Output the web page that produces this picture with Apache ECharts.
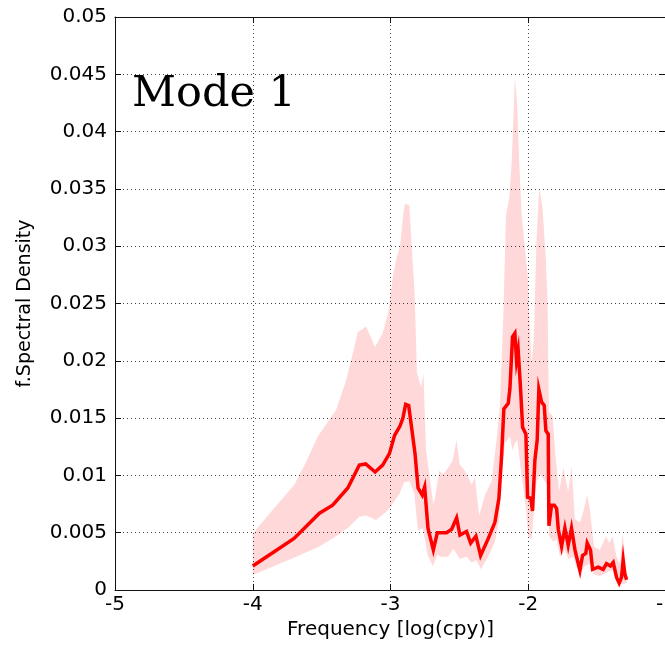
<!DOCTYPE html>
<html>
<head>
<meta charset="utf-8">
<script src="https://cdn.jsdelivr.net/npm/echarts/dist/echarts.min.js"></script>
<style>
  html, body { margin: 0; padding: 0; background: #fff; }
  #chart { width: 665px; height: 647px; }
</style>
</head>
<body>
<div id="chart"></div>
<script>
// Mode 1 spectrum: mean estimate (x = log10 frequency, y = f * spectral density)
const meanCurve = [
  [-4.000, 0.0021], [-3.850, 0.0033], [-3.700, 0.0045], [-3.600, 0.0057],
  [-3.516, 0.0067], [-3.420, 0.0074], [-3.310, 0.0089], [-3.226, 0.0109],
  [-3.180, 0.0110], [-3.112, 0.0103], [-3.057, 0.0109], [-3.008, 0.0119],
  [-2.970, 0.0135], [-2.931, 0.0143], [-2.910, 0.0150], [-2.890, 0.0162],
  [-2.868, 0.0161], [-2.845, 0.0140], [-2.822, 0.0119], [-2.800, 0.0089],
  [-2.770, 0.0083], [-2.752, 0.0090], [-2.728, 0.0054], [-2.689, 0.0035],
  [-2.660, 0.0050], [-2.641, 0.0050], [-2.613, 0.0050], [-2.593, 0.0050],
  [-2.556, 0.0053], [-2.520, 0.0063], [-2.496, 0.0048], [-2.448, 0.0051],
  [-2.418, 0.0041], [-2.380, 0.0047], [-2.346, 0.0030], [-2.290, 0.0045],
  [-2.242, 0.0059], [-2.213, 0.0080], [-2.194, 0.0116], [-2.177, 0.0158],
  [-2.145, 0.0163], [-2.133, 0.0176], [-2.114, 0.0221], [-2.097, 0.0224],
  [-2.085, 0.0200], [-2.073, 0.0209], [-2.056, 0.0176], [-2.041, 0.0142],
  [-2.017, 0.0136], [-2.005, 0.0081], [-1.981, 0.0080], [-1.969, 0.0069],
  [-1.952, 0.0113], [-1.935, 0.0131], [-1.923, 0.0175], [-1.903, 0.0164],
  [-1.884, 0.0161], [-1.872, 0.0139], [-1.855, 0.0136], [-1.850, 0.0056],
  [-1.831, 0.0074], [-1.811, 0.0074], [-1.794, 0.0071], [-1.782, 0.0053],
  [-1.758, 0.0038], [-1.734, 0.0054], [-1.710, 0.0039], [-1.686, 0.0054],
  [-1.661, 0.0035], [-1.625, 0.0017], [-1.606, 0.0030], [-1.582, 0.0032],
  [-1.572, 0.0041], [-1.548, 0.0035], [-1.533, 0.0018], [-1.492, 0.0020],
  [-1.456, 0.0018], [-1.432, 0.0023], [-1.403, 0.0021], [-1.383, 0.0024],
  [-1.359, 0.0011], [-1.340, 0.0006], [-1.323, 0.0011], [-1.311, 0.0026],
  [-1.299, 0.0014], [-1.286, 0.0009]
];

// Upper edge of the confidence band
const bandUpper = [
  [-4.000, 0.0049], [-3.855, 0.0070], [-3.697, 0.0092], [-3.612, 0.0112],
  [-3.528, 0.0134], [-3.395, 0.0157], [-3.322, 0.0183], [-3.262, 0.0212],
  [-3.238, 0.0225], [-3.177, 0.0230], [-3.112, 0.0212], [-3.057, 0.0224],
  [-3.013, 0.0244], [-2.984, 0.0273], [-2.959, 0.0288], [-2.931, 0.0300],
  [-2.905, 0.0330], [-2.895, 0.0337], [-2.863, 0.0336], [-2.846, 0.0300],
  [-2.825, 0.0260], [-2.808, 0.0190], [-2.778, 0.0177], [-2.761, 0.0189],
  [-2.742, 0.0122], [-2.701, 0.0086], [-2.690, 0.0075], [-2.677, 0.0080],
  [-2.646, 0.0104], [-2.617, 0.0101], [-2.581, 0.0107], [-2.549, 0.0113],
  [-2.520, 0.0131], [-2.499, 0.0110], [-2.460, 0.0104], [-2.411, 0.0092],
  [-2.387, 0.0098], [-2.356, 0.0065], [-2.314, 0.0083], [-2.266, 0.0095],
  [-2.230, 0.0131], [-2.206, 0.0161], [-2.181, 0.0239], [-2.162, 0.0327],
  [-2.138, 0.0342], [-2.121, 0.0372], [-2.109, 0.0408], [-2.097, 0.0447],
  [-2.080, 0.0423], [-2.065, 0.0372], [-2.048, 0.0327], [-2.024, 0.0298],
  [-2.005, 0.0276], [-1.976, 0.0197], [-1.959, 0.0221], [-1.940, 0.0306],
  [-1.920, 0.0351], [-1.896, 0.0333], [-1.872, 0.0288], [-1.860, 0.0252],
  [-1.850, 0.0155], [-1.823, 0.0152], [-1.802, 0.0116], [-1.775, 0.0086],
  [-1.746, 0.0107], [-1.710, 0.0086], [-1.686, 0.0108], [-1.661, 0.0062],
  [-1.625, 0.0059], [-1.601, 0.0068], [-1.572, 0.0083], [-1.553, 0.0071],
  [-1.523, 0.0038], [-1.480, 0.0035], [-1.436, 0.0047], [-1.412, 0.0041],
  [-1.388, 0.0047], [-1.359, 0.0029], [-1.335, 0.0023], [-1.315, 0.0050],
  [-1.303, 0.0035], [-1.286, 0.0014]
];

// Lower edge of the confidence band
const bandLower = [
  [-4.000, 0.0013], [-3.685, 0.0029], [-3.516, 0.0038], [-3.395, 0.0047],
  [-3.310, 0.0054], [-3.226, 0.0064], [-3.177, 0.0065], [-3.105, 0.0061],
  [-3.032, 0.0068], [-2.996, 0.0073], [-2.935, 0.0084], [-2.900, 0.0094],
  [-2.863, 0.0095], [-2.827, 0.0084], [-2.810, 0.0062], [-2.800, 0.0052],
  [-2.766, 0.0054], [-2.730, 0.0030], [-2.692, 0.0021], [-2.657, 0.0031],
  [-2.641, 0.0029], [-2.581, 0.0029], [-2.544, 0.0036], [-2.496, 0.0027],
  [-2.448, 0.0029], [-2.411, 0.0024], [-2.375, 0.0026], [-2.344, 0.0018],
  [-2.290, 0.0029], [-2.242, 0.0042], [-2.210, 0.0062], [-2.194, 0.0101],
  [-2.169, 0.0128], [-2.133, 0.0134], [-2.114, 0.0122], [-2.097, 0.0128],
  [-2.080, 0.0131], [-2.056, 0.0107], [-2.036, 0.0089], [-2.017, 0.0071],
  [-2.000, 0.0047], [-1.976, 0.0044], [-1.964, 0.0062], [-1.940, 0.0095],
  [-1.915, 0.0101], [-1.886, 0.0096], [-1.862, 0.0092], [-1.848, 0.0047],
  [-1.819, 0.0042], [-1.794, 0.0044], [-1.770, 0.0029], [-1.734, 0.0035],
  [-1.710, 0.0027], [-1.673, 0.0029], [-1.649, 0.0020], [-1.625, 0.0014],
  [-1.589, 0.0021], [-1.553, 0.0023], [-1.528, 0.0014], [-1.480, 0.0012],
  [-1.432, 0.0015], [-1.383, 0.0018], [-1.347, 0.0008], [-1.323, 0.0005],
  [-1.286, 0.0006]
];

const xRange = [-5, -1];
const yRange = [0, 0.05];
const xStep = 1;
const yStep = 0.005;
const panelTitle = 'Mode 1';

const AXIS_FONT = 'DejaVu Sans';
const gridDots = { color: 'rgba(0,0,0,0.75)', type: [1, 3], width: 1 };

const chart = echarts.init(document.getElementById('chart'), null, { renderer: 'canvas' });

chart.setOption({
  animation: false,
  backgroundColor: '#ffffff',
  grid: {
    left: 115, top: 17, width: 551, height: 573,
    containLabel: false,
    outerBoundsMode: 'none'
  },
  xAxis: [
    {
      type: 'value', min: xRange[0], max: xRange[1], interval: xStep,
      name: 'Frequency [log(cpy)]', nameLocation: 'middle', nameGap: 26,
      nameTextStyle: { fontFamily: AXIS_FONT, fontSize: 20, color: '#000' },
      axisLine: { show: true, onZero: false, lineStyle: { color: '#111', width: 1 } },
      axisTick: { show: true, inside: true, length: 6, lineStyle: { color: '#111' } },
      axisLabel: { fontFamily: AXIS_FONT, fontSize: 20, color: '#000', margin: 5,
                   showMinLabel: true, showMaxLabel: true, hideOverlap: false },
      splitLine: { show: true, lineStyle: gridDots }
    },
    {
      type: 'value', position: 'top', min: xRange[0], max: xRange[1], interval: xStep,
      axisLine: { show: true, onZero: false, lineStyle: { color: '#111', width: 1 } },
      axisTick: { show: true, inside: true, length: 6, lineStyle: { color: '#111' } },
      axisLabel: { show: false }, splitLine: { show: false }
    }
  ],
  yAxis: [
    {
      type: 'value', min: yRange[0], max: yRange[1], interval: yStep,
      name: 'f.Spectral Density', nameLocation: 'middle', nameGap: 80, nameRotate: 90,
      nameTextStyle: { fontFamily: AXIS_FONT, fontSize: 19, color: '#000' },
      axisLine: { show: true, onZero: false, lineStyle: { color: '#111', width: 1 } },
      axisTick: { show: true, inside: true, length: 6, lineStyle: { color: '#111' } },
      axisLabel: { fontFamily: AXIS_FONT, fontSize: 20, color: '#000', margin: 8 },
      splitLine: { show: true, lineStyle: gridDots }
    },
    {
      type: 'value', position: 'right', min: yRange[0], max: yRange[1], interval: yStep,
      axisLine: { show: true, onZero: false, lineStyle: { color: '#111', width: 1 } },
      axisTick: { show: true, inside: true, length: 7, lineStyle: { color: '#111' } },
      axisLabel: { show: false }, splitLine: { show: false }
    }
  ],
  series: [
    {
      // shaded confidence band, drawn as one polygon through the axis scales
      type: 'custom',
      z: -1,
      silent: true,
      xAxisIndex: 0, yAxisIndex: 0,
      data: bandUpper,
      renderItem: function (params, api) {
        if (params.dataIndex !== 0) return null;
        const pts = [];
        bandUpper.forEach(function (p) { pts.push(api.coord(p)); });
        for (let i = bandLower.length - 1; i >= 0; i--) pts.push(api.coord(bandLower[i]));
        return {
          type: 'polygon',
          shape: { points: pts },
          style: { fill: '#ffd9d9', stroke: null }
        };
      }
    },
    {
      type: 'line',
      z: 3,
      xAxisIndex: 0, yAxisIndex: 0,
      data: meanCurve,
      showSymbol: false,
      symbol: 'none',
      lineStyle: { color: '#ff0000', width: 3.5, join: 'miter' }
    }
  ],
  graphic: [
    {
      type: 'text',
      left: 132, top: 73,
      z: 10,
      style: {
        text: panelTitle,
        fontFamily: 'DejaVu Serif',
        fontSize: 43,
        fill: '#000'
      }
    }
  ]
});
</script>
</body>
</html>
